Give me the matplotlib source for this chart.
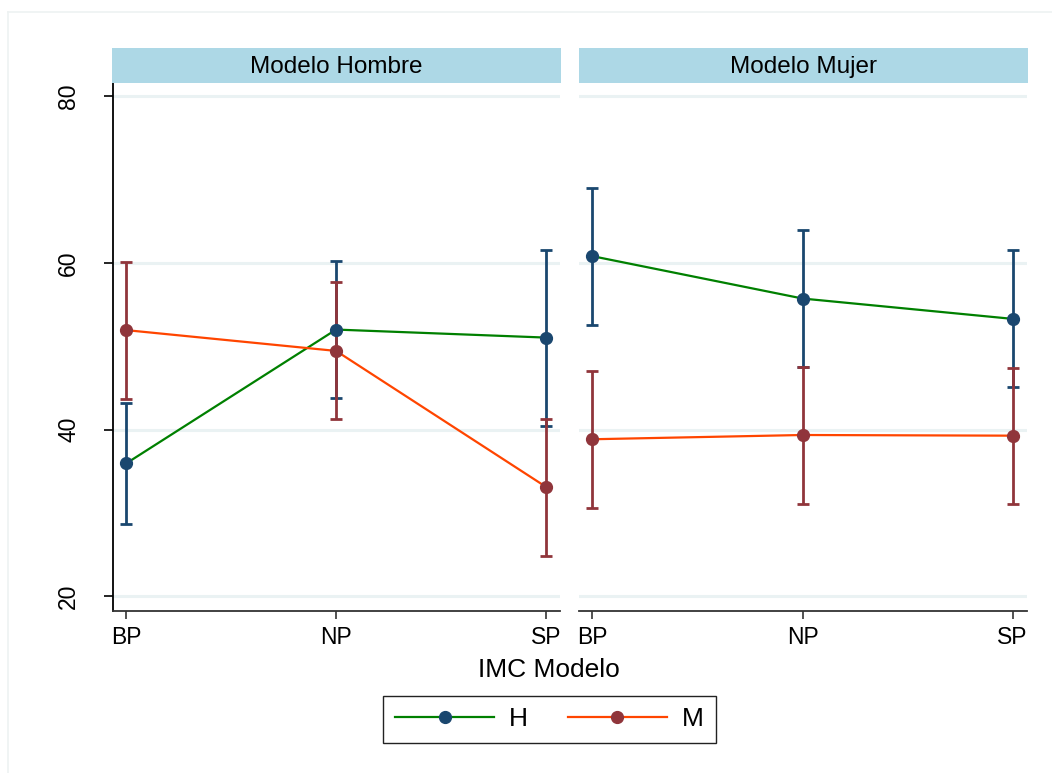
import numpy as np
import matplotlib
matplotlib.use("Agg")
import matplotlib.pyplot as plt
from matplotlib.lines import Line2D

plt.rcParams['font.family'] = ['Liberation Sans', 'DejaVu Sans']

categories = ["BP", "NP", "SP"]
panels = ["Modelo Hombre", "Modelo Mujer"]
groups = ["H", "M"]

# predicted values and 95% CI bounds per panel, group
h_hombre = [35.97, 52.0, 51.04]
h_hombre_lo = [28.72, 43.77, 40.41]
h_hombre_hi = [43.24, 60.24, 61.52]

m_hombre = [51.93, 49.44, 33.16]
m_hombre_lo = [43.72, 41.25, 24.84]
m_hombre_hi = [60.12, 57.68, 41.32]

h_mujer = [60.8, 55.72, 53.28]
h_mujer_lo = [52.56, 47.52, 45.09]
h_mujer_hi = [68.96, 63.88, 61.52]

m_mujer = [38.85, 39.36, 39.28]
m_mujer_lo = [30.57, 31.12, 31.05]
m_mujer_hi = [47.0, 47.49, 47.44]

yticks = [20, 40, 60, 80]

data = {
    "Modelo Hombre": [(h_hombre, h_hombre_lo, h_hombre_hi), (m_hombre, m_hombre_lo, m_hombre_hi)],
    "Modelo Mujer": [(h_mujer, h_mujer_lo, h_mujer_hi), (m_mujer, m_mujer_lo, m_mujer_hi)],
}

line_colors = ["#008000", "#ff4500"]
marker_colors = ["#1a476f", "#90353b"]
grid_color = "#eaf2f3"
strip_color = "#add8e6"

W, H = 1052, 773
fig = plt.figure(figsize=(W / 100, H / 100), dpi=100)


def px_box(x0, y0, x1, y1):
    return [x0 / W, 1 - y1 / H, (x1 - x0) / W, (y1 - y0) / H]


axes_px = [(113, 83, 560, 611), (579, 83, 1027, 611)]
strip_px = [(112, 48, 561, 83), (578.5, 48, 1028, 83)]

x = np.arange(1, len(categories) + 1)
handles = []

for i, name in enumerate(panels):
    ax = fig.add_axes(px_box(*axes_px[i]))
    ax.set_xlim(0.936, 3.068)
    ax.set_ylim(18.26, 81.56)
    for yv in yticks:
        ax.axhline(yv, color=grid_color, lw=2.2, zorder=0)

    series = data[name]
    # confidence intervals first, then the connected lines on top
    for j, (est, lo, hi) in enumerate(series):
        est = np.array(est)
        err = [est - np.array(lo), np.array(hi) - est]
        ax.errorbar(x, est, yerr=err, fmt="none", ecolor=marker_colors[j],
                    elinewidth=2.0, capsize=4.2, capthick=2.0, zorder=2 + j)
    for j, (est, lo, hi) in enumerate(series):
        ln, = ax.plot(x, est, color=line_colors[j], lw=1.6, marker="o", ms=8.5,
                      mfc=marker_colors[j], mec=marker_colors[j], zorder=5 + j)
        if i == 0:
            handles.append(ln)

    ax.set_xticks(x)
    ax.set_xticklabels(categories, fontsize=16.5)
    ax.tick_params(axis="x", length=6, width=1.2, color="#333333", pad=5)
    for s in ["top", "right"]:
        ax.spines[s].set_visible(False)
    ax.spines["bottom"].set_color("#333333")
    ax.spines["bottom"].set_linewidth(1.3)
    if i == 0:
        ax.set_yticks(yticks)
        ax.set_yticklabels([str(v) for v in yticks], fontsize=16.5, rotation=90, va="center")
        ax.tick_params(axis="y", length=6.5, width=1.2, pad=17)
        ax.spines["left"].set_color("black")
        ax.spines["left"].set_linewidth(1.3)
    else:
        ax.spines["left"].set_visible(False)
        ax.set_yticks([])

    sx = fig.add_axes(px_box(*strip_px[i]))
    sx.set_facecolor(strip_color)
    sx.set_xticks([])
    sx.set_yticks([])
    for s in sx.spines.values():
        s.set_visible(False)
    sx.text(0.5, 0.47, name, ha="center", va="center", fontsize=17.5,
            transform=sx.transAxes)

fig.text(548.5 / W, 1 - 670 / H, "IMC Modelo", ha="center", va="center", fontsize=19)

leg = fig.legend(handles, groups, loc="center", bbox_to_anchor=(549.5 / W, 1 - 719.5 / H),
                 ncol=2, fontsize=19, numpoints=1, handlelength=3.75, handletextpad=0.57,
                 columnspacing=1.5, fancybox=False, framealpha=1, borderpad=0.45)
leg.get_frame().set_edgecolor("#222222")
leg.get_frame().set_linewidth(1.0)

# faint outer frame of the graph region
fig.add_artist(Line2D([8 / W, 1], [1 - 12 / H, 1 - 12 / H], color="#eef2f2", lw=1.2))
fig.add_artist(Line2D([8 / W, 8 / W], [0, 1 - 12 / H], color="#eef2f2", lw=1.2))

fig.savefig("out.png", dpi=100, facecolor="white")
